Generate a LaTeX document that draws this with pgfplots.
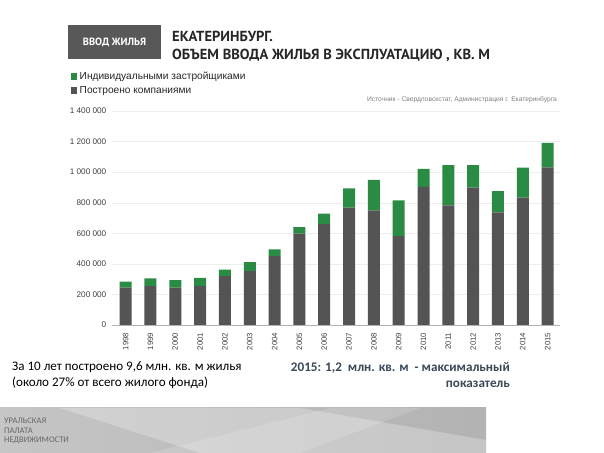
\documentclass[border=0pt]{standalone}
\usepackage{pgfplots}
\pgfplotsset{compat=1.18}
\usepackage{pgfplotstable}
\usepackage{fontspec}
\setmainfont{Liberation Sans}
\newfontfamily\titlefont{PT Sans}
\newfontfamily\calfont{Carlito}
\definecolor{bargreen}{RGB}{42,140,68}
\definecolor{bargray}{RGB}{84,84,84}
\definecolor{boxgray}{RGB}{88,88,88}
\definecolor{slate}{RGB}{58,72,88}
\pgfplotstableread{
x year comp indiv
0 1998 244000 39000
1 1999 255000 50000
2 2000 244000 50000
3 2001 255000 54000
4 2002 320000 42000
5 2003 353000 59000
6 2004 451000 44000
7 2005 597000 44000
8 2006 660000 69000
9 2007 767000 127000
10 2008 750000 200000
11 2009 582000 233000
12 2010 903000 119000
13 2011 783000 263000
14 2012 898000 148000
15 2013 737000 139000
16 2014 833000 196000
17 2015 1031000 161000
}\datatable
\begin{document}
\begin{tikzpicture}[x=1bp,y=1bp]
\fill[white] (0,0) rectangle (604,453);
\useasboundingbox (0,0) rectangle (604,453);
% bottom banner (y = 453 - pixel y)
\shade[left color=gray!45, right color=gray!60] (0,45) rectangle (486,0);
\fill[white,opacity=0.25] (60,45) -- (300,45) -- (486,13) -- (486,0) -- (200,0) -- cycle;
\fill[white,opacity=0.15] (150,0) -- (330,45) -- (420,45) -- (300,0) -- cycle;
\node[anchor=west,align=left,font=\calfont\fontsize{8.6}{9.5}\selectfont,text=black!60,inner sep=0pt] at (4,22) {УРАЛЬСКАЯ\\ПАЛАТА\\НЕДВИЖИМОСТИ};
% header box
\fill[boxgray] (68,428) rectangle (161,394);
\node[font=\titlefont\bfseries\fontsize{10.5}{12}\selectfont,text=white] at (114.5,410.5) {ВВОД ЖИЛЬЯ};
\node[anchor=west,align=left,font=\titlefont\bfseries\fontsize{14.6}{18}\selectfont,text=black!85,inner sep=0pt] at (172,407) {ЕКАТЕРИНБУРГ.\\ОБЪЕМ ВВОДА ЖИЛЬЯ В ЭКСПЛУАТАЦИЮ , КВ. М};
% legend
\fill[bargreen] (70.5,379.5) rectangle (77,373);
\fill[bargray] (70.5,365.5) rectangle (77,359);
\node[anchor=west,font=\fontsize{10.2}{12}\selectfont,text=black!85,inner sep=0pt] at (79.5,376) {Индивидуальными застройщиками};
\node[anchor=west,font=\fontsize{10.2}{12}\selectfont,text=black!85,inner sep=0pt] at (79.5,362) {Построено компаниями};
\node[anchor=east,font=\fontsize{6.7}{8}\selectfont,text=black!50,inner sep=0pt] at (557,353.5) {Источник - Свердловскстат, Администрация г. Екатеринбурга};
% bottom texts
\node[anchor=west,align=left,font=\calfont\fontsize{13.1}{16}\selectfont,text=black,inner sep=0pt] at (12,78) {За 10 лет построено 9,6 млн. кв. м жилья\\(около 27\% от всего жилого фонда)};
\node[anchor=east,align=right,font=\calfont\bfseries\fontsize{13.2}{16}\selectfont,text=slate,inner sep=0pt] at (510,78) {2015: 1,2\ \ млн. кв. м\ \ - максимальный\\показатель};
\begin{axis}[
  at={(112bp,128bp)}, anchor=south west,
  scale only axis, width=448bp, height=214bp,
  ybar stacked, bar width=12bp,
  xmin=-0.55, xmax=17.5, ymin=0, ymax=1400000,
  axis line style={draw=none},
  axis x line*=bottom,
  x axis line style={draw=black!30},
  xtick=data,
  xticklabels={1998,1999,2000,2001,2002,2003,2004,2005,2006,2007,2008,2009,2010,2011,2012,2013,2014,2015},
  xticklabel style={rotate=90,anchor=east,font=\fontsize{7.8}{8}\selectfont,text=black!75},
  extra x ticks={-0.5,0.5,1.5,2.5,3.5,4.5,5.5,6.5,7.5,8.5,9.5,10.5,11.5,12.5,13.5,14.5,15.5,16.5},
  extra x tick labels={},
  extra x tick style={major tick length=2bp, tick style={draw=black!30}, grid=none},
  major x tick style={draw=none},
  ytick={0,200000,400000,600000,800000,1000000,1200000,1400000},
  yticklabels={0,200 000,400 000,600 000,800 000,1 000 000,1 200 000,1 400 000},
  ymajorgrids, grid style={draw=black!7},
  major y tick style={draw=none},
  yticklabel style={font=\fontsize{8.2}{9}\selectfont,text=black!75,xshift=2bp},
  scaled y ticks=false,
  tick align=outside,
]
\addplot[fill=bargray,draw=none] table[x=x,y=comp]{\datatable};
\addplot[fill=bargreen,draw=none] table[x=x,y=indiv]{\datatable};
\end{axis}
\end{tikzpicture}
\end{document}
